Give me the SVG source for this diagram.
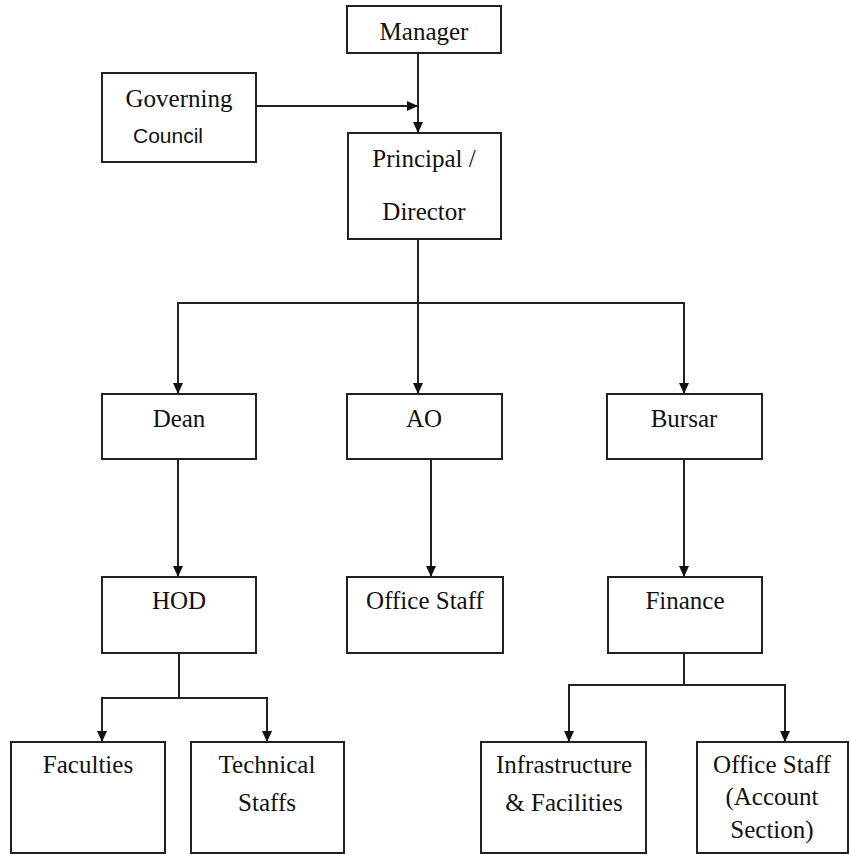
<svg xmlns="http://www.w3.org/2000/svg" width="851" height="855" viewBox="0 0 851 855">
<style>
.box{fill:#fff;stroke:#222;stroke-width:2}
.t{font-family:"Liberation Serif","Times New Roman",serif;font-size:25px;fill:#111;text-anchor:middle}
.s{font-family:"Liberation Sans",Arial,sans-serif;font-size:21px;fill:#111}
.c{fill:none;stroke:#222;stroke-width:2;marker-end:url(#ah)}
.l{fill:none;stroke:#222;stroke-width:2}
</style>
<defs>
<marker id="ah" markerUnits="userSpaceOnUse" markerWidth="11" markerHeight="10" refX="11" refY="5" orient="auto">
<path d="M0,0 L11,5 L0,10 z" fill="#111"/>
</marker>
</defs>
<rect width="851" height="855" fill="#fff"/>
<g id="connectors">
<path class="c" d="M418,53 V133"/>
<path class="c" d="M256,106 H418"/>
<path class="l" d="M418,239 V303"/>
<path class="c" d="M418,303 V394"/>
<path class="c" d="M418,303 H178 V394"/>
<path class="c" d="M418,303 H684 V394"/>
<path class="c" d="M178,459 V577"/>
<path class="c" d="M431,459 V577"/>
<path class="c" d="M684,459 V577"/>
<path class="l" d="M179,653 V698"/>
<path class="c" d="M179,698 H102 V742"/>
<path class="c" d="M179,698 H267 V742"/>
<path class="l" d="M684,653 V685"/>
<path class="c" d="M684,685 H569 V742"/>
<path class="c" d="M684,685 H785 V742"/>
</g>
<g id="manager"><rect class="box" x="347" y="6" width="154" height="47"/><text class="t" x="424" y="40">Manager</text></g>
<g id="governing-council"><rect class="box" x="102" y="73" width="154" height="89"/><text class="t" x="179" y="107">Governing</text><text class="s" x="133" y="143">Council</text></g>
<g id="principal"><rect class="box" x="348" y="133" width="153" height="106"/><text class="t" x="424" y="167">Principal /</text><text class="t" x="424" y="220">Director</text></g>
<g id="dean"><rect class="box" x="102" y="394" width="154" height="65"/><text class="t" x="179" y="427">Dean</text></g>
<g id="ao"><rect class="box" x="347" y="394" width="155" height="65"/><text class="t" x="424" y="427">AO</text></g>
<g id="bursar"><rect class="box" x="607" y="394" width="155" height="65"/><text class="t" x="684" y="427">Bursar</text></g>
<g id="hod"><rect class="box" x="102" y="577" width="154" height="76"/><text class="t" x="179" y="609">HOD</text></g>
<g id="office-staff"><rect class="box" x="347" y="577" width="156" height="76"/><text class="t" x="425" y="609">Office Staff</text></g>
<g id="finance"><rect class="box" x="608" y="577" width="154" height="76"/><text class="t" x="685" y="609">Finance</text></g>
<g id="faculties"><rect class="box" x="11" y="742" width="154" height="111"/><text class="t" x="88" y="773">Faculties</text></g>
<g id="technical-staffs"><rect class="box" x="191" y="742" width="153" height="111"/><text class="t" x="267" y="773">Technical</text><text class="t" x="267" y="811">Staffs</text></g>
<g id="infrastructure"><rect class="box" x="481" y="742" width="165" height="111"/><text class="t" x="564" y="773">Infrastructure</text><text class="t" x="564" y="811">&amp; Facilities</text></g>
<g id="office-staff-account"><rect class="box" x="697" y="742" width="151" height="111"/><text class="t" x="772" y="773">Office Staff</text><text class="t" x="772" y="805">(Account</text><text class="t" x="772" y="838">Section)</text></g>
</svg>
